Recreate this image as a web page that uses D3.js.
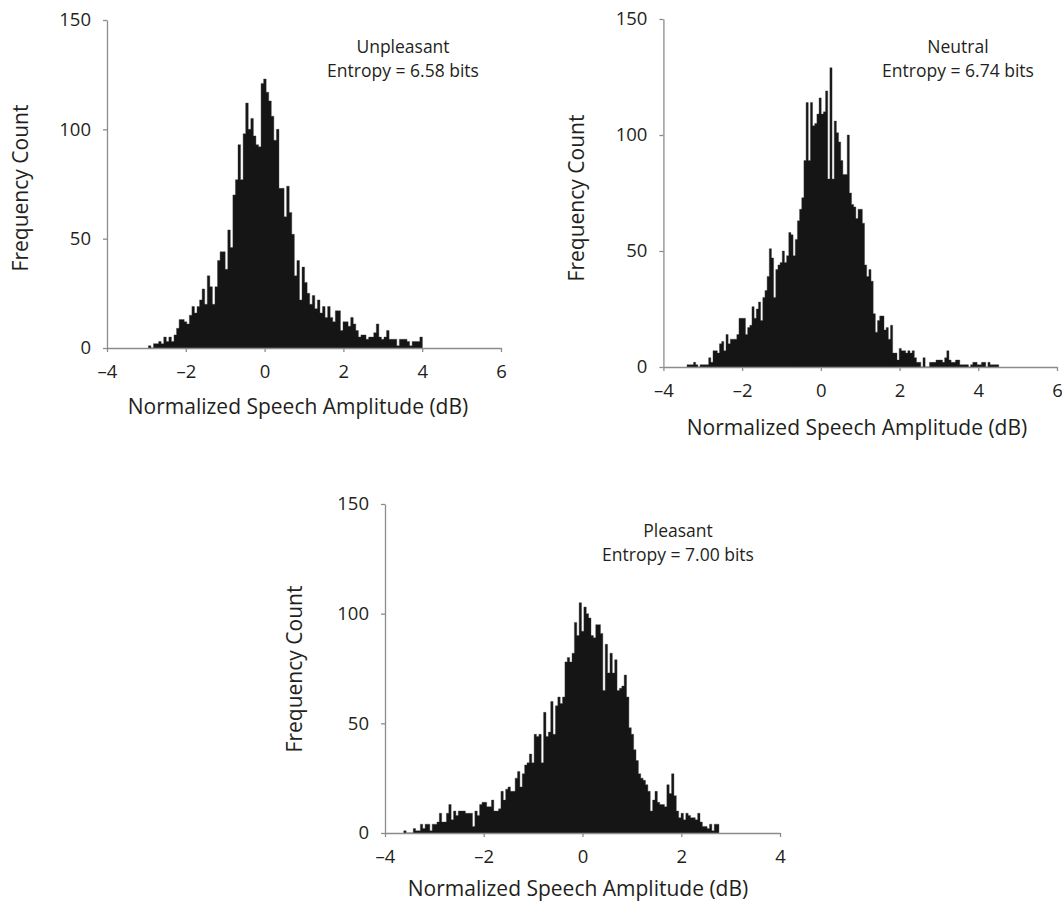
<!DOCTYPE html>
<html><head><meta charset="utf-8">
<script src="https://cdn.jsdelivr.net/npm/d3@7"></script>
<style>
body{margin:0;background:#fff;}
svg{display:block;}
text{font-family:"Open Sans","Noto Sans",sans-serif;fill:#231f20;}
</style></head>
<body>
<svg id="chart" width="1062" height="913"></svg>
<script>
// ---------- data ----------
const xTicksWide = [-4, -2, 0, 2, 4, 6];
const xTicksNarrow = [-4, -2, 0, 2, 4];
const yTicks = [0, 50, 100, 150];

const titles = ["Unpleasant", "Neutral", "Pleasant"];
const entropies = ["Entropy = 6.58 bits", "Entropy = 6.74 bits", "Entropy = 7.00 bits"];

// histogram: first bin start (dB), bin width (dB), counts
const unpleasantStart = -2.95, unpleasantWidth = 0.065;
const unpleasantCounts = [1,0,2,2,3,2,5,3,5,3,
 6,9,13,13,12,11,15,19,16,19,
 22,27,20,33,28,20,28,40,44,44,
 36,54,46,70,77,93,77,98,112,100,
 105,97,93,92,121,123,117,113,106,95,
 100,73,73,60,74,62,52,33,40,22,
 37,30,25,20,24,18,22,16,19,14,
 19,14,12,17,17,8,12,12,10,14,
 11,8,5,6,6,4,5,5,7,11,
 5,4,5,8,4,4,4,1,4,4,
 4,3,1,3,3,3,5];

const neutralStart = -3.4, neutralWidth = 0.055;
const neutralCounts = [1,1,1,2,1,0,1,1,1,1,
 4,2,7,7,6,10,11,7,14,10,
 12,12,12,14,21,21,21,14,17,18,
 26,21,25,28,20,30,33,39,51,47,
 30,42,44,45,50,45,48,58,57,48,
 55,63,68,73,89,114,89,114,104,105,
 109,116,109,110,119,81,129,81,106,101,
 97,89,83,83,100,75,70,69,64,68,
 68,62,44,39,42,37,23,15,20,22,
 22,16,17,12,18,6,6,3,8,7,
 7,6,7,6,7,4,2,2,0,4,
 0,0,2,2,2,3,3,3,2,4,
 7,3,2,2,3,3,1,1,1,1,
 0,1,2,2,1,1,2,2,0,2,
 1,1,1,1];

const pleasantStart = -3.62, pleasantWidth = 0.048;
const pleasantCounts = [1,0,0,0,2,1,1,4,2,4,
 4,1,4,4,5,9,5,5,9,13,
 6,10,8,10,10,10,9,9,9,3,
 10,8,13,14,14,12,12,15,10,10,
 11,19,15,20,21,19,19,25,28,21,
 27,31,32,36,32,45,44,45,32,55,
 44,46,60,45,58,62,59,62,78,80,
 78,82,96,90,105,92,103,100,98,90,
 89,95,95,91,65,86,73,82,73,79,
 65,66,67,72,62,48,45,38,33,27,
 25,24,22,19,10,15,19,14,13,13,
 12,22,18,27,17,10,7,9,6,9,
 8,7,7,6,9,5,3,3,2,4,
 1,4,4];

// ---------- layout ----------
const panels = [
  {start: unpleasantStart, width: unpleasantWidth, counts: unpleasantCounts, xDomain: [-4, 6], xTicks: xTicksWide,
   xr: [107, 501], yr: [348, 20], title: titles[0], entropy: entropies[0], tx: 403, ty: 48,
   xtX: 298, xtY: 408, ytX: 22, ytY: 188},
  {start: neutralStart, width: neutralWidth, counts: neutralCounts, xDomain: [-4, 6], xTicks: xTicksWide,
   xr: [663.4, 1057], yr: [367, 19], title: titles[1], entropy: entropies[1], tx: 958, ty: 48,
   xtX: 857, xtY: 429, ytX: 578, ytY: 198},
  {start: pleasantStart, width: pleasantWidth, counts: pleasantCounts, xDomain: [-4, 4], xTicks: xTicksNarrow,
   xr: [385, 780], yr: [833, 504], title: titles[2], entropy: entropies[2], tx: 678, ty: 532,
   xtX: 578, xtY: 890, ytX: 296, ytY: 669}
];

const svg = d3.select("#chart");
const axisColor = "#8c8c8c";
const fmt = d => (d < 0 ? "\u2013" + Math.abs(d) : String(d));

panels.forEach(p => {
  const x = d3.scaleLinear().domain(p.xDomain).range(p.xr);
  const y = d3.scaleLinear().domain([0, 150]).range(p.yr);
  const g = svg.append("g");

  // histogram bars as one stepped shape (bars touch, no gaps)
  const pts = p.counts.map((c, i) => ({x: p.start + i * p.width, c}));
  pts.push({x: p.start + p.counts.length * p.width, c: p.counts[p.counts.length - 1]});
  const area = d3.area().curve(d3.curveStepAfter)
    .x(d => x(d.x)).y0(y(0)).y1(d => y(d.c));
  g.append("path").datum(pts).attr("d", area)
    .attr("fill", "#151515").attr("stroke", "#3a3a3a").attr("stroke-width", 0.4);

  const ax = g.append("g").attr("transform", `translate(0,${p.yr[0]})`)
    .call(d3.axisBottom(x).tickValues(p.xTicks).tickFormat(fmt).tickSize(4).tickSizeOuter(0).tickPadding(13));
  const ay = g.append("g").attr("transform", `translate(${p.xr[0]},0)`)
    .call(d3.axisLeft(y).tickValues(yTicks).tickSize(4).tickSizeOuter(0).tickPadding(12));
  [ax, ay].forEach(a => {
    a.select(".domain").attr("stroke", axisColor).attr("stroke-width", 1.3);
    a.selectAll(".tick line").attr("stroke", axisColor).attr("stroke-width", 1.3);
    a.selectAll(".tick text").attr("font-size", 18.5).attr("font-family", "'Open Sans', sans-serif").attr("fill", "#231f20");
  });

  g.append("text").attr("x", p.tx).attr("y", p.ty).attr("text-anchor", "middle")
    .attr("dominant-baseline", "middle").attr("font-size", 17.5).text(p.title);
  g.append("text").attr("x", p.tx).attr("y", p.ty + 24).attr("text-anchor", "middle")
    .attr("dominant-baseline", "middle").attr("font-size", 17.5).text(p.entropy);

  g.append("text").attr("x", p.xtX).attr("y", p.xtY).attr("text-anchor", "middle")
    .attr("dominant-baseline", "middle").attr("font-size", 21).text("Normalized Speech Amplitude (dB)");
  g.append("text").attr("transform", `translate(${p.ytX},${p.ytY}) rotate(-90)`)
    .attr("text-anchor", "middle").attr("dominant-baseline", "middle")
    .attr("font-size", 21).text("Frequency Count");
});
</script>
</body></html>
